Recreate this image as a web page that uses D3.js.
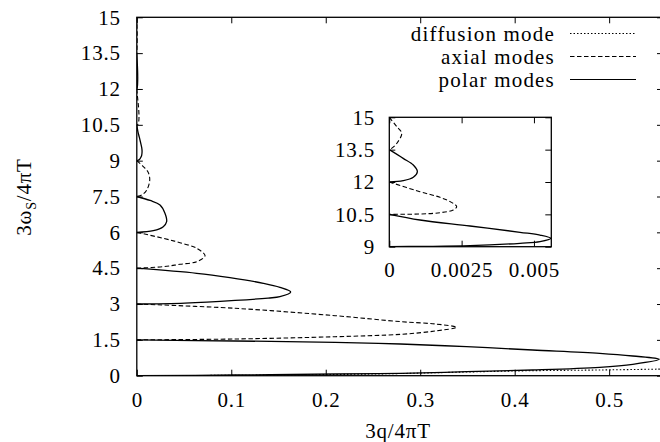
<!DOCTYPE html>
<html>
<head>
<meta charset="utf-8">
<script src="https://cdn.jsdelivr.net/npm/d3@7"></script>
<style>
  body { margin: 0; background: #fff; }
</style>
</head>
<body>
<svg id="chart" width="660" height="442"></svg>
<script>
// [q, omega] points, one loop per mode
let diffusion = [[0, 0], [0.104, 0.017], [0.21, 0.05], [0.279, 0.09], [0.349, 0.155], [0.419, 0.209], [0.49, 0.239], [0.56, 0.28]];

let polar0 = [[0, 1.5], [0.104, 1.452], [0.21, 1.398], [0.279, 1.327], [0.349, 1.214], [0.419, 1.076], [0.49, 0.938], [0.525, 0.825], [0.553, 0.686],
  [0.525, 0.477], [0.49, 0.352], [0.419, 0.239], [0.349, 0.167], [0.279, 0.1], [0.21, 0.071], [0.104, 0.03], [0, 0]];
let axial1 = [[0, 3], [0.104, 2.821], [0.21, 2.512], [0.28, 2.26], [0.316, 2.164], [0.3385, 2.026],
  [0.316, 1.871], [0.28, 1.733], [0.21, 1.632], [0.104, 1.536], [0, 1.5]];
let polar2 = [[0, 4.5], [0.0634, 4.286], [0.0986, 4.102], [0.134, 3.868], [0.1515, 3.7], [0.1629, 3.504],
  [0.1515, 3.307], [0.139, 3.25], [0.104, 3.15], [0.051, 3.04], [0, 3]];
let axial3 = [[0, 6], [0.028, 5.751], [0.0457, 5.567], [0.0634, 5.333], [0.0722, 5.023],
  [0.0634, 4.772], [0.0457, 4.663], [0.028, 4.562], [0, 4.5]];
let polar4 = [[0, 7.5], [0.014, 7.334], [0.0246, 7.145], [0.0298, 6.798], [0.0316, 6.446],
  [0.028, 6.237], [0.0175, 6.07], [0, 6]];
let axial5 = [[0, 9], [0.0069, 8.75], [0.0119, 8.526], [0.0137, 8.19], [0.0105, 7.77], [0.0052, 7.56], [0, 7.5]];
let polar6 = [[0, 10.5], [0.00106, 10.238], [0.00279, 9.96], [0.00452, 9.668], [0.00521, 9.542], [0.00558, 9.389],
  [0.00521, 9.232], [0.00452, 9.158], [0.00279, 9.046], [0.00106, 9.014], [0, 9]];
let axial7 = [[0, 12], [0.00106, 11.55], [0.00175, 11.29], [0.00221, 11.01], [0.00233, 10.855],
  [0.00221, 10.7], [0.00175, 10.575], [0.00106, 10.516], [0, 10.5]];
let polar8 = [[0, 13.5], [0.00048, 13.097], [0.00083, 12.787], [0.00097, 12.476], [0.00083, 12.216], [0.00048, 12.06], [0, 12]];
let axial9 = [[0, 15], [0.00026, 14.564], [0.00043, 14.258], [0.00026, 13.794], [0.00008, 13.56], [0, 13.5]];

let xTicks = [0, 0.1, 0.2, 0.3, 0.4, 0.5];
let yTicks = [0, 1.5, 3, 4.5, 6, 7.5, 9, 10.5, 12, 13.5, 15];
let insetXTicks = [0, 0.0025, 0.005];
let insetYTicks = [9, 10.5, 12, 13.5, 15];
let legendLabels = ['diffusion mode', 'axial modes', 'polar modes'];

let styles = {
  diffusion: '1.5,2',
  axial: '4.5,2.5',
  polar: null
};

let modes = [
  { data: diffusion, kind: 'diffusion' },
  { data: polar0, kind: 'polar' }, { data: axial1, kind: 'axial' },
  { data: polar2, kind: 'polar' }, { data: axial3, kind: 'axial' },
  { data: polar4, kind: 'polar' }, { data: axial5, kind: 'axial' },
  { data: polar6, kind: 'polar' }, { data: axial7, kind: 'axial' },
  { data: polar8, kind: 'polar' }, { data: axial9, kind: 'axial' }
];

let svg = d3.select('#chart');
let fmt = d3.format('~g');
let serif = '"Liberation Serif"';

function textStyle(sel, spacing) {
  sel.style('font-family', serif)
    .style('font-size', '21px')
    .style('letter-spacing', spacing + 'px')
    .attr('fill', '#000');
}

function drawPanel(id, x, y, xt, yt, pad) {
  let g = svg.append('g');
  let [x0, x1] = x.range();
  let [y0, y1] = y.range();

  svg.append('clipPath').attr('id', id)
    .append('rect').attr('x', x0).attr('y', y1).attr('width', x1 - x0).attr('height', y0 - y1);

  let line = d3.line().x(d => x(d[0])).y(d => y(d[1])).curve(d3.curveCatmullRom.alpha(0.5));

  g.append('g').attr('clip-path', `url(#${id})`)
    .selectAll('path')
    .data(modes)
    .enter()
    .append('path')
    .attr('d', d => line(d.data))
    .attr('fill', 'none')
    .attr('stroke', '#000')
    .attr('stroke-width', d => d.kind == 'polar' ? 1.3 : 1.1)
    .attr('stroke-dasharray', d => styles[d.kind]);

  let axes = [
    [d3.axisBottom(x).tickValues(xt).tickFormat(fmt), `translate(0,${y0})`, pad[1]],
    [d3.axisTop(x).tickValues(xt).tickFormat(''), `translate(0,${y1})`, 0],
    [d3.axisLeft(y).tickValues(yt).tickFormat(fmt), `translate(${x0},0)`, pad[0]],
    [d3.axisRight(y).tickValues(yt).tickFormat(''), `translate(${x1},0)`, 0]
  ];
  axes.forEach(([ax, tr, p]) => {
    let a = g.append('g').attr('transform', tr)
      .call(ax.tickSizeInner(-6).tickSizeOuter(0).tickPadding(p));
    a.select('.domain').remove();
    a.selectAll('line').attr('stroke', '#000').attr('stroke-width', 1);
    a.selectAll('text').call(textStyle, 0.8);
  });

  g.append('rect')
    .attr('x', x0).attr('y', y1)
    .attr('width', x1 - x0).attr('height', y0 - y1)
    .attr('fill', 'none')
    .attr('stroke', '#000')
    .attr('stroke-width', 1.3);
}

// main plot
let x = d3.scaleLinear().domain([0, 0.557]).range([136.8, 663]);
let y = d3.scaleLinear().domain([0, 15]).range([375.7, 17.3]);
drawPanel('clipMain', x, y, xTicks, yTicks, [16, 16]);

// inset
let ix = d3.scaleLinear().domain([0, 0.0056]).range([389.3, 551.3]);
let iy = d3.scaleLinear().domain([9, 15]).range([246.7, 117.3]);
svg.append('rect').attr('x', 389.3).attr('y', 117.3).attr('width', 162).attr('height', 129.4).attr('fill', '#fff');
drawPanel('clipInset', ix, iy, insetXTicks, insetYTicks, [14.3, 15.4]);

// legend
let legend = svg.append('g').selectAll('g')
  .data(legendLabels)
  .enter()
  .append('g')
  .attr('transform', (d, i) => `translate(0,${33.5 + i * 23})`);

legend.append('text')
  .attr('x', 555)
  .attr('y', 7.5)
  .attr('text-anchor', 'end')
  .call(textStyle, 1.2)
  .text(d => d);

legend.append('line')
  .attr('x1', 570).attr('x2', 636)
  .attr('stroke', '#000')
  .attr('stroke-width', 1)
  .attr('stroke-dasharray', (d, i) => [styles.diffusion, styles.axial, null][i]);

// axis titles
svg.append('text')
  .attr('x', 398)
  .attr('y', 438)
  .attr('text-anchor', 'middle')
  .call(textStyle, 0.8)
  .text('3q/4πT');

let yl = svg.append('text')
  .attr('transform', 'translate(31,197) rotate(-90)')
  .attr('text-anchor', 'middle')
  .call(textStyle, 0.8);
yl.append('tspan').text('3ω');
yl.append('tspan').attr('dy', 5).style('font-size', '14px').text('S');
yl.append('tspan').attr('dy', -5).text('/4πT');
</script>
</body>
</html>
